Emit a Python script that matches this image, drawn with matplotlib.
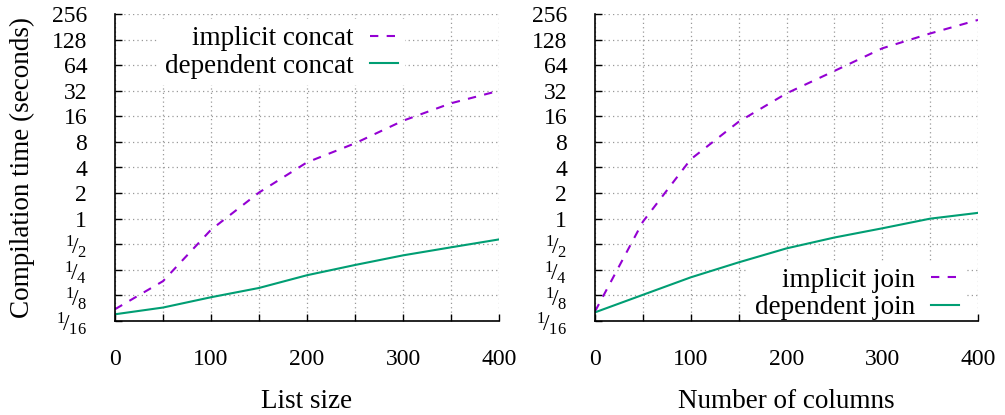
import matplotlib
matplotlib.use("Agg")
import matplotlib.pyplot as plt
from matplotlib.ticker import FixedLocator, NullLocator

plt.rcParams['font.family'] = ['Liberation Serif', 'DejaVu Serif']
plt.rcParams['mathtext.fontset'] = 'custom'
plt.rcParams['mathtext.rm'] = 'Liberation Serif'
plt.rcParams['mathtext.it'] = 'Liberation Serif:italic'

x = [0, 50, 100, 150, 200, 250, 300, 350, 400]
implicit_concat = [0.086, 0.184, 0.74, 2.03, 4.6, 7.7, 14.2, 22.8, 32.0]
dependent_concat = [0.075, 0.090, 0.119, 0.153, 0.216, 0.285, 0.37, 0.46, 0.57]
implicit_join = [0.081, 0.92, 5.0, 13.8, 29.8, 54.7, 101, 151, 218]
dependent_join = [0.079, 0.127, 0.204, 0.306, 0.447, 0.60, 0.77, 1.0, 1.17]

yticks = [1/16, 1/8, 1/4, 1/2, 1, 2, 4, 8, 16, 32, 64, 128, 256]
ytick_labels = [r'${}^{1}\!/_{16}$', r'${}^{1}\!/_{8}$', r'${}^{1}\!/_{4}$', r'${}^{1}\!/_{2}$',
                '1', '2', '4', '8', '16', '32', '64', '128', '256']
xticks_major = [0, 100, 200, 300, 400]
xticks_minor = [50, 150, 250, 350]

purple = '#9400D3'
green = '#009E73'
TFS = 17
LFS = 19.5

fig = plt.figure(figsize=(10.05, 4.15), dpi=100)
ax1 = fig.add_axes([115/1005, 94/415, 384/1005, 307/415])
ax2 = fig.add_axes([595/1005, 94/415, 383/1005, 307/415])

def style(ax, xlabel):
    ax.set_yscale('log', base=2)
    ax.set_xlim(0, 400)
    ax.set_ylim(1/16, 256)
    ax.yaxis.set_major_locator(FixedLocator(yticks))
    ax.yaxis.set_minor_locator(NullLocator())
    ax.set_yticklabels(ytick_labels)
    ax.set_xticks(xticks_major)
    ax.set_xticks(xticks_minor, minor=True)
    ax.set_xticklabels([str(v) for v in xticks_major])
    for s in ['top', 'right']:
        ax.spines[s].set_visible(False)
    for s in ['left', 'bottom']:
        ax.spines[s].set_linewidth(1.2)
    ax.tick_params(axis='both', which='both', direction='in', length=5, width=1, labelsize=TFS)
    ax.tick_params(axis='x', which='both', pad=20)
    ax.tick_params(axis='y', pad=20)
    ax.grid(True, which='both', color='#999999', linestyle=(0, (1, 2.5)), linewidth=0.9)
    ax.set_axisbelow(True)
    ax.set_xlabel(xlabel, fontsize=LFS, labelpad=14)

style(ax1, 'List size')
style(ax2, 'Number of columns')
ax1.set_ylabel('Compilation time (seconds)', fontsize=LFS, labelpad=12)

ax1.plot(x, implicit_concat, color=purple, lw=1.5, dashes=(4, 4), label='implicit concat')
ax1.plot(x, dependent_concat, color=green, lw=1.5, label='dependent concat')
ax2.plot(x, implicit_join, color=purple, lw=1.5, dashes=(4, 4), label='implicit join')
ax2.plot(x, dependent_join, color=green, lw=1.5, label='dependent join')

for ax, loc, anchor in [(ax1, 'upper right', (0.755, 0.983)), (ax2, 'lower right', (0.969, -0.02))]:
    leg = ax.legend(loc=loc, bbox_to_anchor=anchor, markerfirst=False, fontsize=LFS,
                    frameon=True, fancybox=False, framealpha=1, handlelength=1.05,
                    handletextpad=0.6, borderpad=0.25, labelspacing=0.1, borderaxespad=0)
    leg.get_frame().set_edgecolor('none')
    leg.get_frame().set_facecolor('white')
    leg.set_zorder(1)
    for t in leg.get_texts():
        t.set_ha('right')
    leg._legend_box.align = 'right'

fig.savefig('out.png', dpi=100)
